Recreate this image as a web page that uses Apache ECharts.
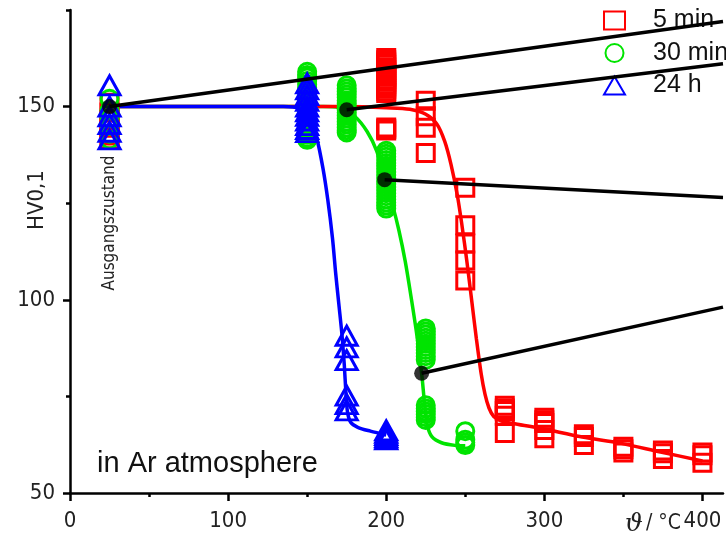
<!DOCTYPE html>
<html>
<head>
<meta charset="utf-8">
<script src="https://cdn.jsdelivr.net/npm/echarts@6/dist/echarts.min.js"></script>
<style>html,body{margin:0;padding:0;background:#fff}#c{width:726px;height:541px}</style>
</head>
<body>
<div id="c"></div>
<script>
// ---- data ----
const seriesNames = ['5 min', '30 min', '24 h'];
const xTicks = [0, 100, 200, 300, 400];
const xMinorTicks = [50, 150, 250, 350];
const yTicks = [50, 100, 150];
const yMinorTicks = [75, 125, 175];

const temps5min = [25, 200, 225, 250, 275, 300, 325, 350, 375, 400];
const hv5min = [
  [151, 148.5, 146.5, 144.5, 142.5, 141.5],
  [162.6, 162, 161.4, 160.8, 160.1, 159.5, 158.9, 158.3, 157.7, 157.1, 156.4, 155.8, 155.2, 154.6, 154, 153.5, 144.6, 144.2, 143.8],
  [151.5, 147.5, 144.5, 138],
  [129, 119.3, 114.6, 110.2, 105],
  [72.6, 71.9, 71.2, 70, 65.5],
  [69.5, 68.8, 68.1, 66.3, 64.2],
  [65.2, 64.5, 62.4],
  [62, 61.3, 60.5],
  [61, 60.3, 58.8],
  [60.5, 59.8, 57.8]
];
const temps30min = [25, 150, 175, 200, 225, 250];
const hv30min = [
  [152, 149, 147, 145, 143, 141.5],
  [159, 158.2, 157.5, 156.6, 155.8, 155, 154.3, 153.5, 152.7, 151.9, 151.2, 150.4, 149.6, 148.8, 148.1, 147.3, 146.5, 145.7, 145, 144.2, 143.4, 142.7, 141.9, 141.4],
  [155.5, 154.7, 153.9, 153.1, 152.4, 151.6, 150.8, 150, 149.2, 148.5, 147.7, 146.9, 146.1, 145.4, 144.6, 143.9, 143.3],
  [138.6, 137.8, 137, 136.2, 135.4, 134.7, 133.9, 133.1, 132.3, 131.5, 130.7, 130, 129.2, 128.4, 127.6, 126.8, 126, 125.2, 124.4, 123.6],
  [92.6, 91.8, 91, 90.2, 89.4, 88.6, 87.8, 87, 86.2, 85.4, 84.5, 72.7, 71.9, 71.1, 70.4, 69.6, 68.9],
  [66, 63.8, 63.1, 62.4]
];
const temps24h = [25, 150, 175, 200];
const hv24h = [
  [155.5, 150, 147.5, 145.5, 143.5, 141.5],
  [156, 154.5, 153, 151.5, 150, 148.8, 147.6, 146.4, 145.2, 144.2, 143.4],
  [90.7, 87.7, 84.4, 75.2, 73, 71.4],
  [66.2, 65.6, 65, 64.4, 63.9]
];

const fit5min = [[25,150],[100,150],[175,150],[200,149.7],[215,149.3],[225,148],[232,145.5],[237,141],[241,135],[245,127],[248,119],[251,110],[254,100],[257,90],[260,81],[262.5,75.5],[265,72],[268,69.8],[273,68.6],[280,68],[297,66.8],[324,64.5],[348,62.9],[373.5,60.6],[400,58.3]];
const fit30min = [[25,150],[100,150],[160,150],[170,149.7],[180,147.5],[188,143.5],[194,138.5],[199,131.5],[204,124.5],[208,118],[212,110],[216,100],[219.5,90.5],[222.4,81],[224.3,73],[226,67.5],[229,64.5],[235,63],[244,62.3],[250,62.2]];
const fit24h = [[25,150],[100,150],[135,150],[145,149.5],[152,147],[156,142],[160,134],[163,126],[166,116],[168,107],[170,99],[172,91],[173.5,83],[174.5,76],[175.5,71],[177.5,68.3],[182,67],[190,66],[200,65]];

// callout lines: [start point, end point]
const callouts = [
  [[25, 150], [413, 172]],
  [[175, 149.2], [413, 161.1]],
  [[199, 131.1], [413, 126.5]],
  [[222.4, 81], [413, 98.1]]
];

function pairs(temps, vals) {
  const out = [];
  temps.forEach((t, i) => vals[i].forEach(v => out.push([t, v])));
  return out;
}

const RED = '#ff0000', GREEN = '#00e400', BLUE = '#0000ff';
const FONT = '"DejaVu Sans Condensed", "DejaVu Sans", sans-serif';

const chart = echarts.init(document.getElementById('c'), null, {renderer: 'canvas'});

function lineSeries(data, color) {
  return {type: 'line', data, smooth: 0.3, symbol: 'none', clip: false,
    lineStyle: {color, width: 3.5}, silent: true, legendHoverLink: false, z: 2};
}
function scatterSeries(name, symbol, size, data, color) {
  return {type: 'scatter', name, symbol, symbolSize: size, data, clip: false,
    itemStyle: {color: 'rgba(0,0,0,0)', borderColor: color, borderWidth: 3, opacity: 1}, z: 3};
}

const series = [
  lineSeries(fit30min, GREEN),
  lineSeries(fit5min, RED),
  lineSeries(fit24h, BLUE),
  scatterSeries('5 min', 'rect', 17, pairs(temps5min, hv5min), RED),
  scatterSeries('30 min', 'circle', 17, pairs(temps30min, hv30min), GREEN),
  scatterSeries('24 h', 'triangle', [21, 19], pairs(temps24h, hv24h), BLUE)
];
callouts.forEach(c => series.push({type: 'line', data: c, symbol: 'none', clip: false,
  lineStyle: {color: '#000', width: 3.5}, z: 4, silent: true}));
series.push({type: 'scatter', data: callouts.map(c => c[0]), symbol: 'circle', symbolSize: 15,
  itemStyle: {color: '#000'}, z: 5, clip: false});

chart.setOption({
  animation: false,
  backgroundColor: '#fff',
  grid: {left: 70, right: 3, top: 10, bottom: 48, containLabel: false},
  legend: {
    data: seriesNames, orient: 'vertical', left: 598, top: 3, itemWidth: 21, itemHeight: 18, itemGap: 7.5,
    textStyle: {fontFamily: 'Liberation Sans, Arial, sans-serif', fontSize: 25, lineHeight: 25, color: '#111', padding: [0, 0, 0, 23]},
    selectedMode: false
  },
  xAxis: [{
    type: 'value', min: 0, max: 413, interval: 100,
    axisLine: {show: true, lineStyle: {color: '#000', width: 2.5}},
    axisTick: {show: true, customValues: xTicks, length: 8, lineStyle: {color: '#000', width: 2.5}},
    axisLabel: {customValues: xTicks, margin: 17, fontFamily: FONT, fontSize: 22, color: '#222'},
    splitLine: {show: false}
  }, {
    type: 'value', min: 0, max: 413, interval: 50, position: 'bottom',
    axisLine: {show: false},
    axisTick: {show: true, customValues: xMinorTicks, length: 4, lineStyle: {color: '#000', width: 2.5}},
    axisLabel: {show: false}, splitLine: {show: false}
  }],
  yAxis: [{
    type: 'value', min: 50, max: 175, interval: 25,
    axisLine: {show: true, lineStyle: {color: '#000', width: 2.5}},
    axisTick: {show: true, customValues: yTicks, length: 7, lineStyle: {color: '#000', width: 2.5}},
    axisLabel: {customValues: yTicks, margin: 15, fontFamily: FONT, fontSize: 22, color: '#222'},
    splitLine: {show: false}
  }, {
    type: 'value', min: 50, max: 175, interval: 25, position: 'left',
    axisLine: {show: false},
    axisTick: {show: true, customValues: yMinorTicks, length: 4, lineStyle: {color: '#000', width: 2.5}},
    axisLabel: {show: false}, splitLine: {show: false}
  }],
  graphic: [
    {type: 'text', x: 37, y: 200, rotation: Math.PI / 2,
      style: {text: 'HV0,1', fontFamily: FONT, fontSize: 22, fill: '#222', align: 'center', verticalAlign: 'middle'}},
    {type: 'text', x: 110, y: 223, rotation: Math.PI / 2,
      style: {text: 'Ausgangszustand', fontFamily: FONT, fontSize: 17, fill: '#222', align: 'center', verticalAlign: 'middle'}},
    {type: 'text', x: 97, y: 464,
      style: {text: 'in Ar atmosphere', fontFamily: 'Liberation Sans, Arial, sans-serif', fontSize: 29, fill: '#111', align: 'left', verticalAlign: 'middle'}},
    {type: 'text', x: 634, y: 524,
      style: {text: 'ϑ', fontFamily: 'DejaVu Serif, serif', fontStyle: 'italic', fontSize: 25, fill: '#222', align: 'center', verticalAlign: 'middle'}},
    {type: 'text', x: 646, y: 524,
      style: {text: '/ °C', fontFamily: FONT, fontSize: 21, fill: '#222', align: 'left', verticalAlign: 'middle'}}
  ],
  series
});
</script>
</body>
</html>
